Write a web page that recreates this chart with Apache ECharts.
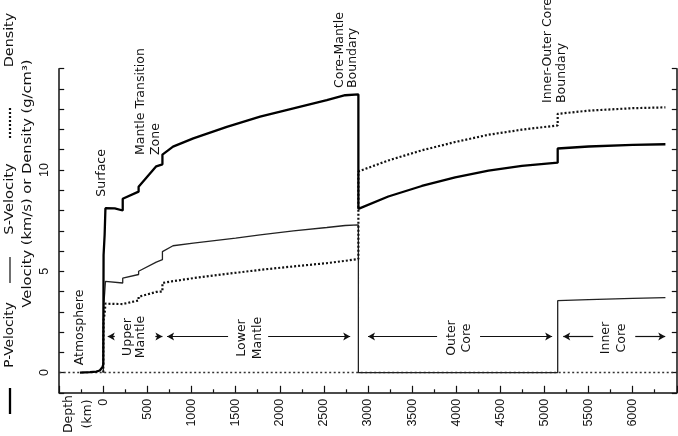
<!DOCTYPE html>
<html><head><meta charset="utf-8">
<script src="https://cdn.jsdelivr.net/npm/echarts/dist/echarts.min.js"></script>
<style>html,body{margin:0;padding:0;background:#fff;}#c{width:678px;height:436px;}</style>
</head><body><div id="c"></div>
<script>
// ---- data (depth km, value) ----
const pVelocity = [
  [-265,0],[-150,0.02],[-80,0.05],[-40,0.1],[-20,0.18],[-8,0.28],[0,0.4],
  [0,1.45],[3,1.45],[3,5.8],[15,5.8],[15,6.8],[24,6.8],[24,8.11],[130,8.1],[220,8.0],
  [220,8.58],[400,8.93],[400,9.17],[600,10.18],[670,10.28],[670,10.76],[790,11.15],
  [1020,11.56],[1400,12.13],[1777,12.63],[2155,13.04],[2533,13.45],[2741,13.69],[2891,13.73],
  [2891,8.08],[3230,8.69],[3610,9.21],[3988,9.64],[4366,9.97],[4744,10.2],[5150,10.36],
  [5150,11.06],[5500,11.16],[6000,11.24],[6371,11.27]
];
const sVelocity = [
  [0,0],[3,0],[3,3.2],[15,3.2],[15,3.9],[24,3.9],[24,4.5],[220,4.42],
  [220,4.66],[400,4.84],[400,5.0],[600,5.45],[670,5.57],[670,5.97],[790,6.26],
  [1020,6.39],[1500,6.64],[1777,6.8],[2155,6.99],[2533,7.16],[2741,7.26],[2891,7.29],
  [2891,0],[5150,0],[5150,3.55],[5500,3.6],[6000,3.66],[6371,3.7]
];
const density = [
  [0,0],[0,1.02],[3,1.02],[3,2.6],[15,2.6],[15,2.9],[24,2.9],[24,3.4],[220,3.38],
  [220,3.45],[400,3.56],[400,3.74],[600,3.98],[670,4.0],[670,4.42],[775,4.5],
  [1020,4.66],[1400,4.87],[1777,5.07],[2155,5.24],[2533,5.4],[2891,5.6],
  [2891,9.93],[3230,10.47],[3610,10.97],[3988,11.38],[4366,11.74],[4744,11.99],[5150,12.2],
  [5150,12.77],[5500,12.93],[6000,13.05],[6371,13.09]
];
const zeroLine = [[-500,0],[6500,0]];
const xTickLabels = [0,500,1000,1500,2000,2500,3000,3500,4000,4500,5000,5500,6000];
const yTickLabels = [0,5,10];
const regionArrows = [ // [from depth, to depth (arrow head)], at value 1.78
  [130,50],[590,670],[1414,723],[1868,2798],[3783,3000],[4270,5087],[5553,5213],[6029,6369]
];
const arrowLevel = 1.78;

const FONT = 'DejaVu Sans';
const chart = echarts.init(document.getElementById('c'), null, {renderer:'canvas'});

function rtext(x, y, text, align, size, lh, stretch) {
  return {type:'text', x:x, y:y, rotation:Math.PI/2, scaleX:stretch||1, silent:true,
    style:{text:text, fill:'#111', font:(size||12.5)+'px "'+FONT+'"', align:align||'center',
      verticalAlign:'middle', lineHeight:lh||15}};
}

const yAxisBase = {
  type:'value', min:-1, max:15, interval:1,
  axisLine:{show:true, onZero:false, lineStyle:{color:'#111', width:1.5}},
  axisTick:{show:true, inside:true, length:5, lineStyle:{color:'#111', width:1.2}},
  splitLine:{show:false}
};

const option = {
  animation:false,
  backgroundColor:'#fff',
  grid:{left:59.2, right:1.2, top:68.7, bottom:43.2},
  xAxis:{
    type:'value', min:-500, max:6500, interval:500,
    axisLine:{onZero:false, lineStyle:{color:'#111', width:1.5}},
    axisTick:{inside:true, length:7, lineStyle:{color:'#111', width:1.2}},
    minorTick:{show:true, splitNumber:2, length:3.5, lineStyle:{color:'#111', width:1.2}},
    axisLabel:{rotate:90, margin:6, color:'#111', fontFamily:'Liberation Sans', fontSize:12.5,
      showMaxLabel:false,
      formatter: v => xTickLabels.indexOf(v) >= 0 ? String(v) : ''},
    splitLine:{show:false}
  },
  yAxis:[
    Object.assign({}, yAxisBase, {position:'left',
      axisLabel:{rotate:90, margin:8, color:'#111', fontFamily:'Liberation Sans', fontSize:12.5,
        formatter: v => yTickLabels.indexOf(v) >= 0 ? String(v) : ''}}),
    Object.assign({}, yAxisBase, {position:'right', axisLabel:{show:false}})
  ],
  series:[
    {type:'line', name:'zero', data:zeroLine, symbol:'none', silent:true,
      lineStyle:{color:'#333', width:1.6, type:[2,2.5]},
      markLine:{silent:true, symbol:['none','arrow'], symbolSize:[6,7], animation:false,
        label:{show:false}, lineStyle:{color:'#111', width:1.2, type:'solid'},
        data: regionArrows.map(a => [{coord:[a[0], arrowLevel]}, {coord:[a[1], arrowLevel]}])}},
    {type:'line', name:'S-Velocity', data:sVelocity, symbol:'none', silent:true,
      lineStyle:{color:'#222', width:1.3}},
    {type:'line', name:'Density', data:density, symbol:'none', silent:true,
      lineStyle:{color:'#111', width:2.2, type:[2,2]}},
    {type:'line', name:'P-Velocity', data:pVelocity, symbol:'none', silent:true,
      lineStyle:{color:'#000', width:2.3}}
  ],
  graphic:[
    // legend column
    {type:'line', silent:true, shape:{x1:10, y1:388, x2:10, y2:414}, style:{stroke:'#000', lineWidth:2.3}},
    rtext(10, 335, 'P-Velocity', 'center', 13, 15, 1.05),
    {type:'line', silent:true, shape:{x1:10, y1:257, x2:10, y2:283}, style:{stroke:'#222', lineWidth:1.3}},
    rtext(10, 199, 'S-Velocity', 'center', 13, 15, 1.13),
    {type:'line', silent:true, shape:{x1:10, y1:108, x2:10, y2:140}, style:{stroke:'#111', lineWidth:2.2, lineDash:[2,2]}},
    rtext(10, 40, 'Density', 'center', 13, 15, 1.1),
    rtext(28, 183.5, 'Velocity (km/s) or Density (g/cm³)', 'center', 13, 15, 1.13),
    rtext(78.5, 414, 'Depth\n(km)', 'center', 12.5, 19),
    // annotations
    rtext(101.7, 196.7, 'Surface', 'left'),
    rtext(148, 155, 'Mantle Transition\nZone', 'left', 12.5, 15),
    rtext(346, 88, 'Core-Mantle\nBoundary', 'left', 12.5, 13),
    rtext(555, 103, 'Inner-Outer Core\nBoundary', 'left', 12.5, 14),
    rtext(80, 327.5, 'Atmosphere'),
    rtext(134, 337, 'Upper\nMantle', 'center', 12.5, 13),
    rtext(249.5, 338, 'Lower\nMantle', 'center', 12.5, 16),
    rtext(459.5, 338, 'Outer\nCore', 'center', 12.5, 15),
    rtext(614, 338, 'Inner\nCore', 'center', 12.5, 16)
  ]
};
chart.setOption(option);
</script>
</body></html>
